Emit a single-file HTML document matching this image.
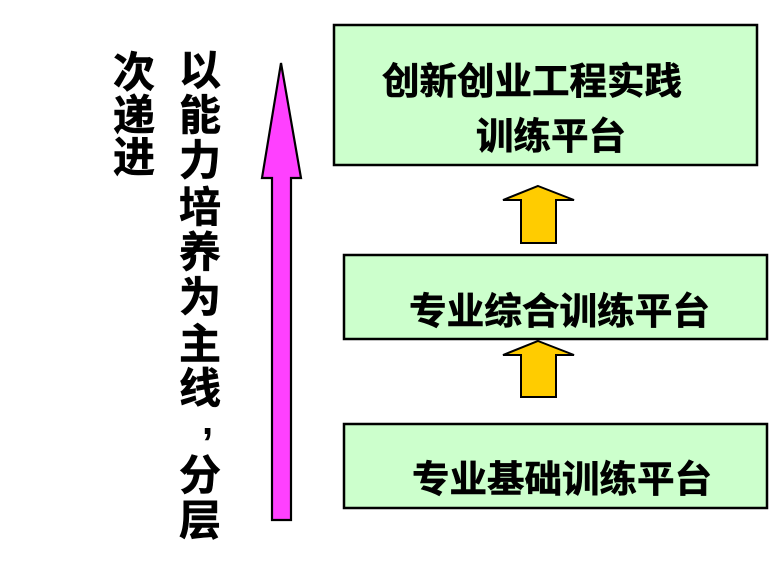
<!DOCTYPE html>
<html>
<head>
<meta charset="utf-8">
<style>
  html, body { margin: 0; padding: 0; background: #ffffff; }
  body { width: 770px; height: 587px; overflow: hidden; }
  svg { display: block; }
  .cjk { font-family: "Liberation Sans", "Noto Sans CJK SC", "WenQuanYi Zen Hei", sans-serif; font-weight: bold; fill: #000; stroke: #000; stroke-width: 0.6; }
</style>
</head>
<body>
<svg width="770" height="587" viewBox="0 0 770 587" xmlns="http://www.w3.org/2000/svg">
  <rect x="0" y="0" width="770" height="587" fill="#ffffff"/>

  <!-- Boxes -->
  <rect x="334" y="25" width="423" height="140" fill="#CCFFCC" stroke="#000" stroke-width="2.5"/>
  <rect x="344" y="255" width="423" height="84" fill="#CCFFCC" stroke="#000" stroke-width="2.5"/>
  <rect x="344" y="424" width="423" height="84" fill="#CCFFCC" stroke="#000" stroke-width="2.5"/>

  <!-- Box texts -->
  <text class="cjk" x="382" y="94" font-size="37" textLength="300" lengthAdjust="spacingAndGlyphs">创新创业工程实践</text>
  <text class="cjk" x="476" y="149" font-size="37" textLength="150" lengthAdjust="spacingAndGlyphs">训练平台</text>
  <text class="cjk" x="409" y="324" font-size="37" textLength="301" lengthAdjust="spacingAndGlyphs">专业综合训练平台</text>
  <text class="cjk" x="412" y="492" font-size="37" textLength="300" lengthAdjust="spacingAndGlyphs">专业基础训练平台</text>

  <!-- Yellow arrows -->
  <polygon points="538,186 574,200 556,200 556,243 521,243 521,200 503,200" fill="#FFCC00" stroke="#000" stroke-width="2" stroke-linejoin="miter"/>
  <polygon points="538,341 574,355 556,355 556,397 521,397 521,355 503,355" fill="#FFCC00" stroke="#000" stroke-width="2" stroke-linejoin="miter"/>

  <!-- Magenta arrow -->
  <polygon points="281,63 301,178 291,178 291,520 272,520 272,178 262,178" fill="#FF40FF" stroke="#000" stroke-width="2.2" stroke-linejoin="miter"/>

  <!-- Vertical column 1 -->
  <g class="cjk" font-size="42" text-anchor="middle">
    <text x="200" y="85">以</text>
    <text x="200" y="130">能</text>
    <text x="200" y="175">力</text>
    <text x="200" y="222">培</text>
    <text x="200" y="267">养</text>
    <text x="200" y="312">为</text>
    <text x="200" y="359">主</text>
    <text x="200" y="403">线</text>
    <text x="200" y="490">分</text>
    <text x="200" y="535">层</text>
  </g>
  <text x="202" y="434" font-family="Liberation Sans, sans-serif" font-weight="bold" font-size="40" fill="#000">,</text>

  <!-- Vertical column 2 -->
  <g class="cjk" font-size="42" text-anchor="middle">
    <text x="134" y="87">次</text>
    <text x="134" y="130">递</text>
    <text x="134" y="172">进</text>
  </g>
</svg>
</body>
</html>
